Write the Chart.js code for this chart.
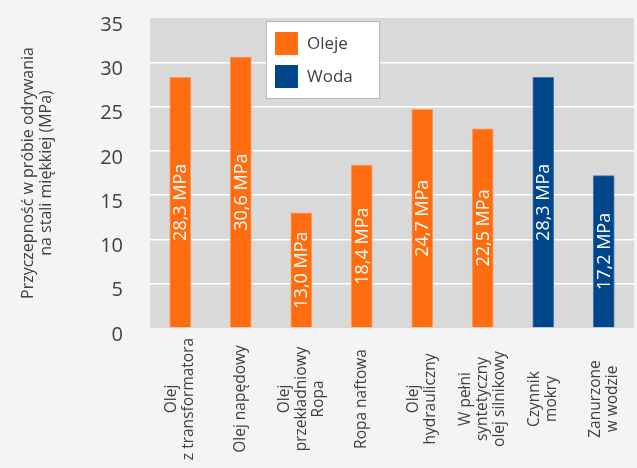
<!DOCTYPE html>
<html>
<head>
<meta charset="utf-8">
<script src="https://cdn.jsdelivr.net/npm/chart.js@4.4.1/dist/chart.umd.min.js"></script>
<style>
  html, body { margin: 0; padding: 0; background: #f4f4f4; }
  canvas { display: block; }
</style>
</head>
<body>
<canvas id="chart" width="637" height="468"></canvas>
<script>
// dane z wykresu
const categories = [
    ["Olej", "z transformatora"],
    ["Olej napędowy"],
    ["Olej", "przekładniowy", "Ropa"],
    ["Ropa naftowa"],
    ["Olej", "hydrauliczny"],
    ["W pełni", "syntetyczny", "olej silnikowy"],
    ["Czynnik", "mokry"],
    ["Zanurzone", "w wodzie"]
];
const olejeValues = [28.3, 30.6, 13.0, 18.4, 24.7, 22.5, null, null];
const wodaValues = [null, null, null, null, null, null, 28.3, 17.2];
const yMin = 0, yMax = 35, yStep = 5;
const yTitle = ["Przyczepność w próbie odrywania", "na stali miękkiej (MPa)"];

const FONT = "'Open Sans', sans-serif";
const TEXT = '#404040';

// szare tło obszaru wykresu
const plotBg = {
    id: 'plotBg',
    beforeDraw(chart) {
        const { ctx, chartArea: a } = chart;
        ctx.save();
        ctx.fillStyle = '#d9d9d9';
        ctx.fillRect(a.left, a.top, a.right - a.left, a.bottom - a.top);
        ctx.restore();
    }
};

// wartości w słupkach
const valueLabels = {
    id: 'valueLabels',
    afterDatasetsDraw(chart) {
        const ctx = chart.ctx;
        ctx.save();
        ctx.fillStyle = '#ffffff';
        ctx.font = '18px ' + FONT;
        ctx.textAlign = 'center';
        ctx.textBaseline = 'middle';
        chart.data.datasets.forEach((ds, di) => {
            chart.getDatasetMeta(di).data.forEach((bar, i) => {
                const v = ds.data[i];
                if (v == null) return;
                const cy = (bar.y + bar.base) / 2;
                ctx.save();
                ctx.translate(bar.x, cy);
                ctx.rotate(-Math.PI / 2);
                ctx.fillText(v.toFixed(1).replace('.', ',') + ' MPa', 0, 1);
                ctx.restore();
            });
        });
        ctx.restore();
    }
};

// etykiety osi X (pionowe, wyśrodkowane)
const xLabels = {
    id: 'xLabels',
    afterDraw(chart) {
        const ctx = chart.ctx;
        const xs = chart.scales.x;
        const lh = 17;
        ctx.save();
        ctx.fillStyle = TEXT;
        ctx.font = '15.5px ' + FONT;
        ctx.textAlign = 'center';
        ctx.textBaseline = 'middle';
        categories.forEach((lines, i) => {
            const x = xs.getPixelForValue(i);
            ctx.save();
            ctx.translate(x, 399);
            ctx.rotate(-Math.PI / 2);
            lines.forEach((t, k) => {
                ctx.fillText(t, 0, (k - (lines.length - 1) / 2) * lh);
            });
            ctx.restore();
        });
        ctx.restore();
    }
};

// legenda w ramce wewnątrz wykresu
const legendBox = {
    id: 'legendBox',
    afterDraw(chart) {
        const { ctx, chartArea: a } = chart;
        const x = a.left + 116, y = a.top + 3;
        ctx.save();
        ctx.fillStyle = '#ffffff';
        ctx.fillRect(x, y, 113, 77);
        ctx.strokeStyle = '#b8b8b8';
        ctx.lineWidth = 1;
        ctx.strokeRect(x + 0.5, y + 0.5, 113, 77);
        ctx.font = '17px ' + FONT;
        ctx.textBaseline = 'middle';
        chart.data.datasets.forEach((ds, i) => {
            const ry = y + 11 + i * 33;
            ctx.fillStyle = ds.backgroundColor;
            ctx.fillRect(x + 9, ry, 23, 23);
            ctx.fillStyle = TEXT;
            ctx.fillText(ds.label, x + 41, ry + 12);
        });
        ctx.restore();
    }
};

new Chart(document.getElementById('chart'), {
    type: 'bar',
    data: {
        labels: categories.map(c => c.join(' ')),
        datasets: [
            {
                label: 'Oleje',
                data: olejeValues,
                backgroundColor: '#ff6d10',
                borderColor: '#ff9a5c',
                borderWidth: 1,
                barThickness: 21,
                grouped: false
            },
            {
                label: 'Woda',
                data: wodaValues,
                backgroundColor: '#00468b',
                borderColor: '#4a79aa',
                borderWidth: 1,
                barThickness: 21,
                grouped: false
            }
        ]
    },
    options: {
        responsive: false,
        animation: false,
        layout: { padding: { top: 18, right: 3, bottom: 132, left: 0 } },
        plugins: {
            legend: { display: false },
            tooltip: { enabled: false }
        },
        scales: {
            x: {
                grid: { display: false },
                border: { display: false },
                ticks: { display: false }
            },
            y: {
                min: yMin,
                max: yMax,
                afterFit(scale) {
                    scale.width = 150;
                    scale.paddingTop = 0;
                    scale.paddingBottom = 0;
                },
                border: { display: false },
                grid: {
                    drawTicks: false,
                    lineWidth: 1.5,
                    color: c => (c.tick && (c.tick.value === yMin || c.tick.value === yMax)) ? 'rgba(0,0,0,0)' : '#ffffff'
                },
                ticks: {
                    stepSize: yStep,
                    padding: 27,
                    labelOffset: 7,
                    color: TEXT,
                    font: { family: FONT, size: 20 }
                },
                title: {
                    display: true,
                    text: yTitle,
                    color: TEXT,
                    padding: { top: 19, bottom: 0 },
                    font: { family: FONT, size: 16, lineHeight: 1.15 }
                }
            }
        }
    },
    plugins: [plotBg, valueLabels, xLabels, legendBox]
});
</script>
</body>
</html>
